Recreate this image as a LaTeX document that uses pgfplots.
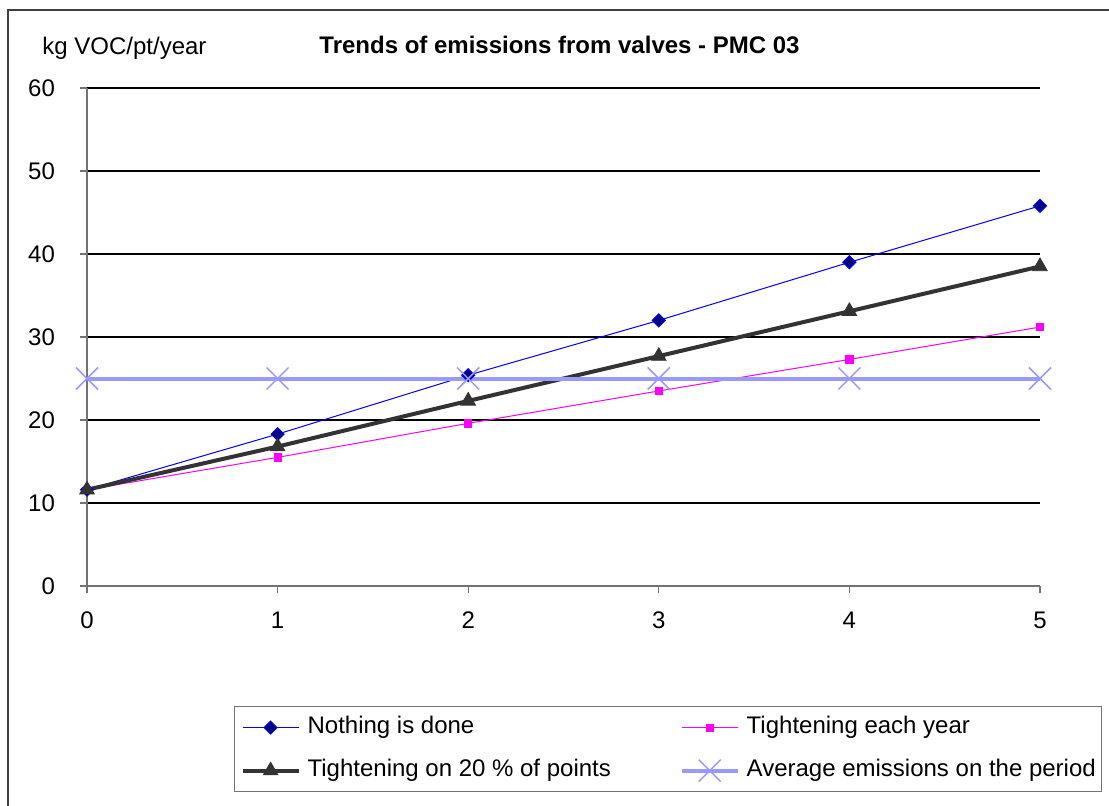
\documentclass[border=0pt]{standalone}
\usepackage{fontspec}
\setmainfont{Liberation Sans}
\usepackage{pgfplots}
\pgfplotsset{compat=1.18}

\definecolor{navyfill}{HTML}{000080}
\definecolor{lineblue}{HTML}{0000FF}
\definecolor{pinkline}{HTML}{FF00FF}
\definecolor{darkline}{HTML}{333333}
\definecolor{avgline}{HTML}{9999FF}

\begin{document}
\begin{tikzpicture}[font=\fontsize{12}{14}\selectfont]
\path[use as bounding box] (0,0) rectangle (554.5pt,402.5pt);
\clip (0,0) rectangle (554.5pt,402.5pt);
\fill[white] (0,0) rectangle (554.5pt,402.5pt);
% chart frame
\draw[black!75, line width=0.6pt] (4pt,-5pt) -- (4pt,397.5pt) -- (560pt,397.5pt);
% unit and title
\node[anchor=base west, inner sep=0pt] at (21pt,375pt) {kg VOC/pt/year};
\node[anchor=base, inner sep=0pt, font=\fontsize{12}{14}\selectfont\bfseries] at (279.75pt,375.5pt) {Trends of emissions from valves - PMC 03};

\begin{axis}[
  at={(43.5pt,109.5pt)}, anchor=south west,
  scale only axis, width=476.5pt, height=249pt,
  xmin=0, xmax=5, ymin=0, ymax=60,
  xtick={0,1,2,3,4,5}, ytick={0,10,20,30,40,50,60},
  axis lines*=left,
  axis line style={black!55, line width=0.6pt},
  tick style={black!55, line width=0.6pt},
  tick align=outside, major tick length=3.5pt,
  ymajorgrids, grid style={black, line width=0.6pt},
  clip=false,
  /pgf/number format/assume math mode=true,
  tick label style={font=\fontsize{12}{14}\selectfont},
  xticklabel style={yshift=-6pt},
  yticklabel style={xshift=-9pt},
  legend columns=2, legend cell align=left,
  legend style={at={(0.15425,-0.24096)}, anchor=north west,
    draw=black!55, line width=0.6pt, font=\fontsize{12}{14}\selectfont,
    inner xsep=3pt, inner ysep=4.5pt,
    nodes={inner sep=0pt, text height=9pt, text depth=3pt},
    column sep=3.5pt, row sep=9.5pt,
    /tikz/every even column/.append style={column sep=34.4pt}},
  legend image code/.code={\draw[mark repeat=2, mark phase=2] plot coordinates {(0pt,0pt) (14pt,0pt) (28pt,0pt)};},
]
\addplot[color=lineblue, line width=0.5pt, mark=square*, mark size=2.3pt,
  mark options={rotate=45, fill=navyfill, draw=lineblue, line width=0.5pt}]
  coordinates {(0,11.6) (1,18.3) (2,25.4) (3,32.0) (4,39.0) (5,45.8)};
\addlegendentry{Nothing is done}
\addplot[color=pinkline, line width=0.5pt, mark=square*, mark size=1.8pt,
  mark options={fill=pinkline, draw=pinkline, line width=0.4pt}]
  coordinates {(0,11.6) (1,15.5) (2,19.6) (3,23.5) (4,27.3) (5,31.2)};
\addlegendentry{Tightening each year}
\addplot[color=darkline, line width=2pt, mark=triangle*, mark size=4.2pt,
  mark options={fill=darkline, draw=darkline, line width=0.4pt}]
  coordinates {(0,11.6) (1,16.8) (2,22.3) (3,27.7) (4,33.1) (5,38.5)};
\addlegendentry{Tightening on 20 \% of points}
\addplot[color=avgline, line width=2pt, mark=x, mark size=7.8pt,
  mark options={draw=avgline, line width=0.75pt}]
  coordinates {(0,25) (1,25) (2,25) (3,25) (4,25) (5,25)};
\addlegendentry{Average emissions on the period}
\end{axis}
\end{tikzpicture}
\end{document}
